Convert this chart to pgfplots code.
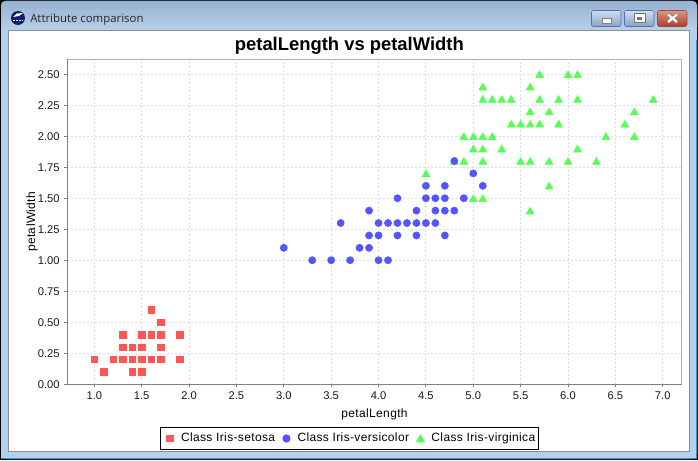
\documentclass[border=0pt]{standalone}
\usepackage{fontspec}
\setmainfont{Liberation Sans}
\newfontfamily\winfont{Open Sans}
\newfontfamily\javafont[LetterSpace=3]{Liberation Sans}
\usepackage{pgfplots}
\pgfplotsset{compat=1.18}
\usepackage{pgfplotstable}
\definecolor{setosa}{RGB}{255,85,85}
\definecolor{versi}{RGB}{85,85,255}
\definecolor{virgi}{RGB}{85,255,85}
\definecolor{gridc}{RGB}{222,222,222}
\definecolor{axisc}{RGB}{128,128,128}
\definecolor{framec}{RGB}{176,176,176}
\definecolor{titletop}{RGB}{150,178,208}
\definecolor{titlebot}{RGB}{185,209,234}
\definecolor{sidec}{RGB}{182,208,235}
\definecolor{btntop}{RGB}{205,222,240}
\definecolor{btnbot}{RGB}{135,165,198}
\definecolor{closetop}{RGB}{222,150,130}
\definecolor{closebot}{RGB}{180,55,40}
\definecolor{iconc}{RGB}{20,30,110}

\pgfplotsset{legendmark/.style={legend image code/.code={%
    \path[draw=none] (-7pt,0) -- (6.3pt,0);
    \draw[##1] plot coordinates {(0,0)};}}}

\pgfplotstableread{
x y
1.0 0.2
1.1 0.1
1.2 0.2
1.3 0.2
1.3 0.3
1.3 0.4
1.4 0.1
1.4 0.2
1.4 0.3
1.5 0.1
1.5 0.2
1.5 0.3
1.5 0.4
1.6 0.2
1.6 0.4
1.6 0.6
1.7 0.2
1.7 0.3
1.7 0.4
1.7 0.5
1.9 0.2
1.9 0.4
}\setosadata

\pgfplotstableread{
x y
3.0 1.1
3.3 1.0
3.5 1.0
3.6 1.3
3.7 1.0
3.8 1.1
3.9 1.1
3.9 1.2
3.9 1.4
4.0 1.0
4.0 1.2
4.0 1.3
4.1 1.0
4.1 1.3
4.2 1.2
4.2 1.3
4.2 1.5
4.3 1.3
4.4 1.2
4.4 1.3
4.4 1.4
4.5 1.3
4.5 1.5
4.5 1.6
4.6 1.3
4.6 1.4
4.6 1.5
4.7 1.2
4.7 1.4
4.7 1.5
4.7 1.6
4.8 1.4
4.8 1.8
4.9 1.5
5.0 1.7
5.1 1.6
}\versidata

\pgfplotstableread{
x y
4.5 1.7
4.8 1.8
4.9 1.8
4.9 2.0
5.0 1.5
5.0 1.9
5.0 2.0
5.1 1.5
5.1 1.8
5.1 1.9
5.1 2.0
5.1 2.3
5.1 2.4
5.2 2.0
5.2 2.3
5.3 1.9
5.3 2.3
5.4 2.1
5.4 2.3
5.5 1.8
5.5 2.1
5.6 1.4
5.6 1.8
5.6 2.1
5.6 2.2
5.6 2.4
5.7 2.1
5.7 2.3
5.7 2.5
5.8 1.6
5.8 1.8
5.8 2.2
5.9 2.1
5.9 2.3
6.0 1.8
6.0 2.5
6.1 1.9
6.1 2.3
6.1 2.5
6.3 1.8
6.4 2.0
6.6 2.1
6.7 2.0
6.7 2.2
6.9 2.3
}\virgidata

\begin{document}
\begin{tikzpicture}
% window frame, in reference pixels
\begin{scope}[x=0.75pt,y=-0.75pt]
\fill[black] (0,0) rectangle (698,460);
\fill[sidec,rounded corners=4pt] (1,1) rectangle (697,459);
\shade[top color=titletop,bottom color=titlebot,rounded corners=3pt] (1,1) rectangle (697,31);
\fill[sidec] (1,120) rectangle (8,458);
\fill[sidec] (690,120) rectangle (696,458);
\fill[cyan!75!black] (696,40) rectangle (697,459);
\fill[cyan!75!black] (1,458) rectangle (697,459);
\fill[white] (8.5,30.5) rectangle (689.5,451.5);
\draw[gray!90,line width=0.75pt] (8.5,30.5) rectangle (689.5,451.5);
% icon
\fill[iconc] (18,18) circle (7);
\fill[white] (13,17) -- (17,13.5) -- (23,13) -- (19,16) -- cycle;
\draw[white,line width=0.75pt,dash pattern=on 1.5pt off 0.7pt] (13,20.5) -- (23,20.5);
\node[anchor=base west,inner sep=0pt,font=\winfont\fontsize{8.55pt}{9pt}\selectfont,text=black!85] at (30,23) {Attribute comparison};
% buttons
\shade[draw=black!55!blue!60,top color=btntop,bottom color=btnbot,rounded corners=1.5pt] (591.5,10.5) rectangle (621,26.5);
\shade[draw=black!55!blue!60,top color=btntop,bottom color=btnbot,rounded corners=1.5pt] (624.5,10.5) rectangle (654,26.5);
\shade[draw=black!60!red!70,top color=closetop,bottom color=closebot,rounded corners=1.5pt] (657.5,10.5) rectangle (687,26.5);
\fill[white,draw=black!50] (602,18.5) rectangle (611.5,23);
\draw[black!55,fill=white,line width=0.75pt] (634,14) rectangle (645,22.7);
\fill[black!55] (637,17) rectangle (642,20);
\draw[black!50,line width=3pt] (668,14.5) -- (677,22) (677,14.5) -- (668,22);
\draw[white,line width=1.7pt] (668,14.5) -- (677,22) (677,14.5) -- (668,22);
\end{scope}
\begin{axis}[
    at={(50.48pt,-288.22pt)}, anchor=south west,
    scale only axis, width=460.8pt, height=243.75pt,
    xmin=0.715, xmax=7.2, ymin=0, ymax=2.62,
    xtick={1,1.5,...,7}, ytick={0,0.25,...,2.5},
    xticklabel style={/pgf/number format/.cd,fixed,fixed zerofill,precision=1},
    yticklabel style={/pgf/number format/.cd,fixed,fixed zerofill,precision=2},
    /pgf/number format/assume math mode=true,
    tick label style={font=\fontsize{8.4pt}{10pt}\selectfont,text=black!90},
    label style={font=\javafont\fontsize{9pt}{10pt}\selectfont},
    xlabel={petalLength}, ylabel={petalWidth},
    xlabel style={at={(axis description cs:0.5,0)},anchor=north,yshift=-14.5pt},
    ylabel style={at={(axis description cs:0,0.5)},anchor=south,yshift=18.75pt},
    title={\bfseries petalLength vs petalWidth},
    title style={font=\fontsize{13.8pt}{15pt}\selectfont,at={(axis description cs:0.459,1)},anchor=south,yshift=-5.5pt},
    grid=major,
    grid style={gridc,line width=0.75pt,dash pattern=on 1.5pt off 1.5pt},
    axis line style={framec,line width=0.75pt},
    tick align=outside, major tick length=2.2pt,
    tick style={axisc,line width=0.75pt},
    xtick pos=lower, ytick pos=left,
    only marks, clip=false,
    legend columns=3,
    legend style={at={(0.459,-0.1323)},anchor=north,draw=black,line width=0.75pt,
        font=\javafont\fontsize{9pt}{10pt}\selectfont,inner xsep=0.5pt,inner ysep=2pt,
        /tikz/every even column/.style={column sep=-0.5pt},
        /tikz/every odd column/.style={column sep=0pt}},
    legend cell align=left,
]
\addlegendimage{only marks,mark=square*,mark size=2.4pt,color=setosa,legendmark}
\addlegendentry{Class Iris-setosa}
\addlegendimage{only marks,mark=*,mark size=2.7pt,color=versi,legendmark}
\addlegendentry{Class Iris-versicolor}
\addlegendimage{only marks,mark=triangle*,mark size=3.4pt,color=virgi,mark options={yshift=-0.85pt},legendmark}
\addlegendentry{Class Iris-virginica}

% drawn back to front: virginica lies under versicolor
\addplot[forget plot,only marks,mark=triangle*,mark size=3.4pt,color=virgi,mark options={yshift=-0.85pt}] table {\virgidata};
\addplot[forget plot,only marks,mark=*,mark size=2.7pt,color=versi] table {\versidata};
\addplot[forget plot,only marks,mark=square*,mark size=2.4pt,color=setosa] table {\setosadata};
\draw[axisc,line width=0.75pt] (rel axis cs:0,1) -- (rel axis cs:0,0) -- (rel axis cs:1,0);
\end{axis}
\end{tikzpicture}
\end{document}
